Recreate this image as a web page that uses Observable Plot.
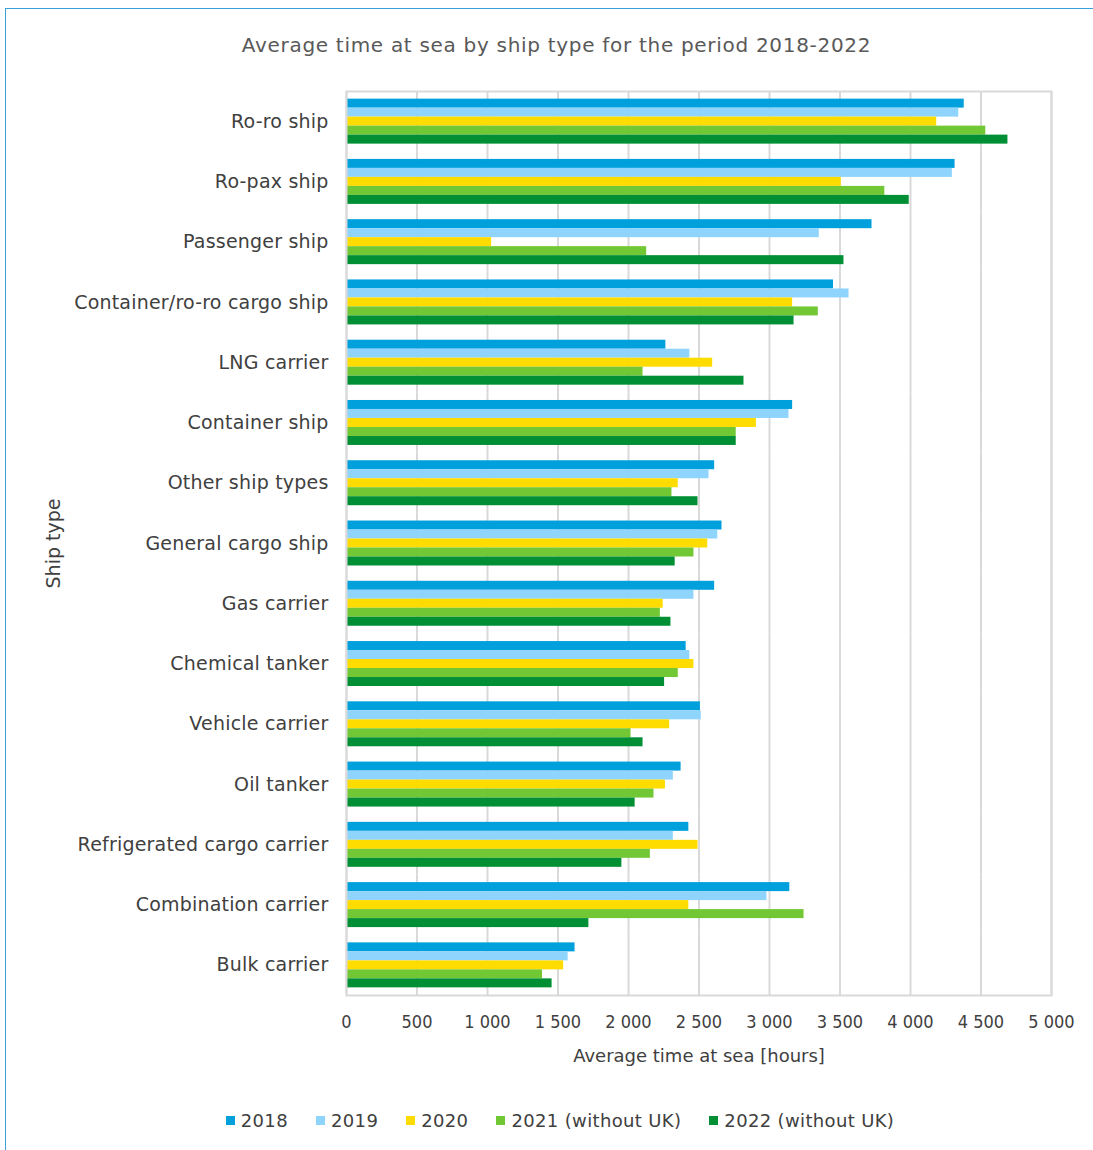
<!DOCTYPE html>
<html>
<head>
<meta charset="utf-8">
<script src="https://cdn.jsdelivr.net/npm/d3@7"></script>
<script src="https://cdn.jsdelivr.net/npm/@observablehq/plot@0.6"></script>
<style>
  html, body { margin: 0; padding: 0; background: #fff; }
  body { width: 1093px; height: 1150px; position: relative; overflow: hidden; font-family: "DejaVu Sans", sans-serif; }
  #border { position: absolute; left: 5px; top: 8px; width: 1200px; height: 1300px; border: 1px solid #3b9fd9; box-sizing: border-box; }
  #title { position: absolute; top: 33px; left: 0; width: 1113px; text-align: center; font-size: 20px; letter-spacing: 0.7px; color: #595959; }
  #chart { position: absolute; left: 0; top: 0; }
  #legend { position: absolute; top: 1104px; left: 14px; width: 1120px; display: flex; justify-content: center; }
  #legend [class$="-swatch"] { margin-right: 28px !important; }
  #legend [class$="-swatch"] svg { margin-right: 6px !important; }
  .ylab text { letter-spacing: 0.2px; }
</style>
</head>
<body>
<div id="border"></div>
<div id="chart"></div>
<div id="title">Average time at sea by ship type for the period 2018-2022</div>
<div id="legend"></div>
<script>
const ships = ["Ro-ro ship","Ro-pax ship","Passenger ship","Container/ro-ro cargo ship","LNG carrier","Container ship","Other ship types","General cargo ship","Gas carrier","Chemical tanker","Vehicle carrier","Oil tanker","Refrigerated cargo carrier","Combination carrier","Bulk carrier"];
const years = ["2018","2019","2020","2021 (without UK)","2022 (without UK)"];
const colors = ["#00a0dc","#8fd4fd","#ffdc00","#71c834","#008f34"];
const v2018 = [4381,4316,3727,3454,2265,3164,2611,2663,2611,2409,2510,2373,2428,3144,1621];
const v2019 = [4342,4297,3353,3564,2435,3138,2571,2633,2464,2435,2516,2318,2318,2982,1572];
const v2020 = [4186,3509,1029,3164,2597,2907,2353,2562,2246,2464,2292,2262,2493,2428,1540];
const v2021 = [4534,3818,2129,3346,2103,2764,2308,2464,2226,2353,2018,2181,2155,3245,1390];
const v2022 = [4691,3991,3528,3174,2819,2764,2493,2331,2301,2256,2103,2047,1953,1719,1458];
const xTicks = [0,500,1000,1500,2000,2500,3000,3500,4000,4500,5000];

const series = [v2018, v2019, v2020, v2021, v2022];
const data = [];
ships.forEach((s, i) => series.forEach((arr, j) => data.push({ship: s, year: years[j], value: arr[i]})));

const fmt = d => d3.format(",")(d).replace(/,/g, " ");

const chart = Plot.plot({
  width: 1093,
  height: 1080,
  marginTop: 91,
  marginBottom: 85,
  marginLeft: 346,
  marginRight: 42,
  style: {fontFamily: "DejaVu Sans, sans-serif", fontSize: "18px", color: "#404040", background: "transparent", overflow: "visible"},
  x: {domain: [0, 5000]},
  y: {domain: years, axis: null, paddingInner: 0, paddingOuter: 0.85, round: false},
  fy: {domain: ships, padding: 0, round: false},
  color: {domain: years, range: colors},
  marks: [
    Plot.gridX(xTicks, {stroke: "#d9d9d9", strokeOpacity: 1, strokeWidth: 2}),
    Plot.barX(data, {x: "value", y: "year", fy: "ship", fill: "year", inset: 0}),
    Plot.frame({facet: "super", stroke: "#d9d9d9", strokeWidth: 2}),
    Plot.axisX(xTicks, {tickSize: 0, tickPadding: 20, tickFormat: fmt, fontSize: 18, fill: "#404040",
      fontFamily: "DejaVu Sans Condensed, sans-serif", label: null}),
    Plot.axisX({tickSize: 0, ticks: [], tickFormat: () => "", label: "Average time at sea [hours]",
      labelAnchor: "center", labelArrow: "none", labelOffset: 66, fontSize: 18, fill: "#404040",
      style: {letterSpacing: "0.6px"}}),
    Plot.axisFy({anchor: "left", tickSize: 0, tickPadding: 18, fontSize: 19, fill: "#404040",
      className: "ylab", label: "Ship type", labelAnchor: "center", labelOffset: 300})
  ]
});
document.getElementById("chart").appendChild(chart);

const legend = Plot.legend({
  color: {domain: years, range: colors},
  legend: "swatches",
  swatchSize: 9,
  style: {fontFamily: "DejaVu Sans, sans-serif", fontSize: "18px", color: "#404040", letterSpacing: "0.35px"}
});
document.getElementById("legend").appendChild(legend);
</script>
</body>
</html>
